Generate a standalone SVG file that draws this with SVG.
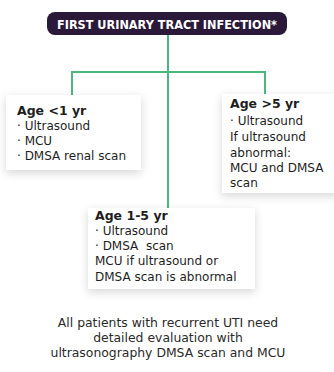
<svg xmlns="http://www.w3.org/2000/svg" width="334" height="372" viewBox="0 0 334 372">
<style>
.ln{fill:none;stroke:#4bb87b;stroke-width:2}
.box{fill:#ffffff}
.h{font-family:"DejaVu Sans",Verdana,sans-serif;font-weight:700;font-size:12.5px;fill:#1e1e1e}
.t{font-family:"DejaVu Sans",Verdana,sans-serif;font-size:12px;fill:#1e1e1e;white-space:pre}
.f{font-family:"DejaVu Sans",Verdana,sans-serif;font-size:12.4px;fill:#2a2a2a}
.title{font-family:"DejaVu Sans",Verdana,sans-serif;font-weight:700;font-size:13px;fill:#ffffff}
</style>
<defs>
<filter id="sh" x="-20%" y="-30%" width="140%" height="160%">
<feDropShadow dx="0" dy="3" stdDeviation="5" flood-color="#000" flood-opacity="0.16"/>
</filter>
</defs>
<rect width="334" height="372" fill="#ffffff"/>
<g id="connectors">
<path class="ln" d="M168 35V208"/>
<path class="ln" d="M72 95V72H265V95"/>
</g>
<g id="title">
<rect x="47" y="12" width="240" height="23" rx="8" fill="#2b1939"/>
<text class="title" x="57" y="28.5" textLength="220" lengthAdjust="spacingAndGlyphs">FIRST URINARY TRACT INFECTION*</text>
</g>
<g id="age-lt1">
<rect class="box" x="6" y="95" width="135" height="75" filter="url(#sh)"/>
<text class="h" x="17" y="115">Age &lt;1 yr</text>
<text class="t" x="17" y="130">· Ultrasound</text>
<text class="t" x="17" y="145">· MCU</text>
<text class="t" x="17" y="160">· DMSA renal scan</text>
</g>
<g id="age-gt5">
<rect class="box" x="222" y="94" width="116" height="99" filter="url(#sh)"/>
<text class="h" x="230" y="108">Age &gt;5 yr</text>
<text class="t" x="230" y="125">· Ultrasound</text>
<text class="t" x="230" y="141">If ultrasound</text>
<text class="t" x="230" y="157">abnormal:</text>
<text class="t" x="230" y="172">MCU and DMSA</text>
<text class="t" x="230" y="187">scan</text>
</g>
<g id="age-1-5">
<rect class="box" x="88" y="208" width="167" height="81" filter="url(#sh)"/>
<text class="h" x="95" y="220">Age 1-5 yr</text>
<text class="t" x="95" y="235">· Ultrasound</text>
<text class="t" x="95" y="250">· DMSA  scan</text>
<text class="t" x="95" y="265">MCU if ultrasound or</text>
<text class="t" x="95" y="281">DMSA scan is abnormal</text>
</g>
<g id="note">
<text class="f" x="168" y="327" text-anchor="middle">All patients with recurrent UTI need</text>
<text class="f" x="168" y="342" text-anchor="middle">detailed evaluation with</text>
<text class="f" x="168" y="357" text-anchor="middle">ultrasonography DMSA scan and MCU</text>
</g>
</svg>
